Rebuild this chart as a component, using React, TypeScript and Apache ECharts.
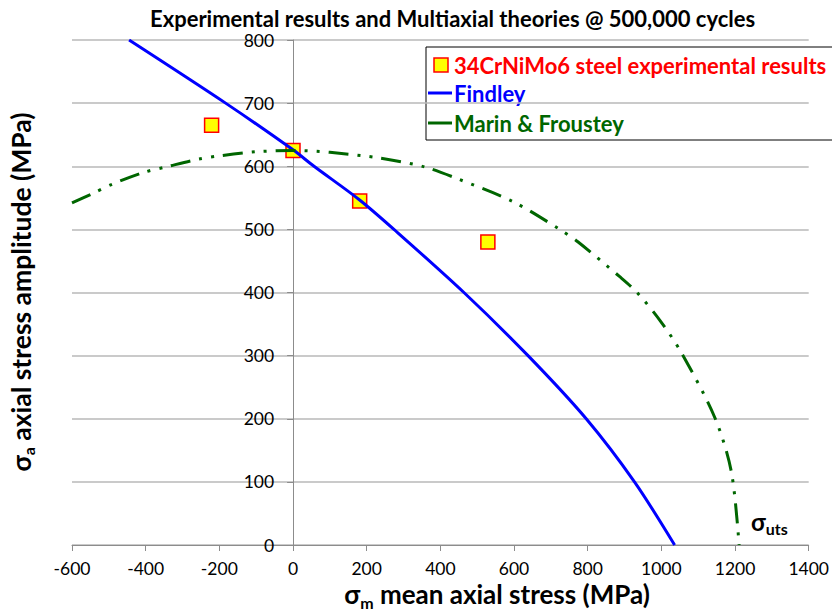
import React, { useEffect, useRef } from "react";
import * as echarts from "echarts";

const TITLE = "Experimental results and Multiaxial theories @ 500,000 cycles";
const SERIES_EXP = "34CrNiMo6 steel experimental results";
const SERIES_FINDLEY = "Findley";
const SERIES_MARIN = "Marin & Froustey";

// Experimental points [mean stress, amplitude]
const expX = [-221, 0, 181, 529];
const expY = [665, 625, 545, 480];

// Findley curve
const findleyX = [-445, -183, 0, 57, 180, 274, 464, 638, 796, 927, 1036];
const findleyY = [800, 700, 626, 600, 547, 500, 400, 300, 200, 100, 0];

// Marin & Froustey curve
const marinX = [-600, -547, -489, -407, -344, -258, -193, -99, 0, 100, 235, 357, 443, 597, 724, 774, 887, 934, 996, 1054, 1145, 1190, 1211];
const marinY = [542, 556, 572, 590, 599, 611, 617, 623, 625, 622, 613, 599, 581, 544, 500, 480, 425, 400, 356, 305, 202, 116, 0];

const X_MIN = -600, X_MAX = 1400, X_STEP = 200;
const Y_MIN = 0, Y_MAX = 800, Y_STEP = 100;

const FONT = 'Lato, "Open Sans", "DejaVu Sans", sans-serif';

const GRID_LEFT = 72, GRID_RIGHT = 23, GRID_TOP = 40, GRID_BOTTOM = 65;
const W = 832, H = 610;
// shift the y axis from the grid's left edge to x = 0
const Y_AXIS_OFFSET = -((0 - X_MIN) / (X_MAX - X_MIN)) * (W - GRID_LEFT - GRID_RIGHT);

const zip = (xs: number[], ys: number[]) => xs.map((x, i) => [x, ys[i]]);

const measure = (text: string, font: string) =>
  new (echarts.graphic as any).Text({ style: { text, font } }).getBoundingRect().width;

// Builds [main, subscript, rest] laid out horizontally, centred on (0,0) locally
function subscriptGroup(
  main: string, sub: string, rest: string,
  mainSize: number, subSize: number, subDrop: number, anchor: "center" | "left"
) {
  const fMain = `bold ${mainSize}px ${FONT}`;
  const fSub = `bold ${subSize}px ${FONT}`;
  const w1 = measure(main, fMain);
  const w2 = measure(sub, fSub);
  const w3 = rest ? measure(rest, fMain) : 0;
  const total = w1 + w2 + w3;
  const x0 = anchor === "center" ? -total / 2 : 0;
  const children: any[] = [
    { type: "text", x: x0, y: 0, style: { text: main, font: fMain, fill: "#000", align: "left", verticalAlign: "middle" } },
    { type: "text", x: x0 + w1, y: subDrop, style: { text: sub, font: fSub, fill: "#000", align: "left", verticalAlign: "middle" } },
  ];
  if (rest) {
    children.push({ type: "text", x: x0 + w1 + w2, y: 0, style: { text: rest, font: fMain, fill: "#000", align: "left", verticalAlign: "middle" } });
  }
  return children;
}

export default function App() {
  const ref = useRef<HTMLDivElement>(null);
  useEffect(() => {
    if (!ref.current) return;
    const chart = echarts.init(ref.current, undefined, { renderer: "svg" });
    const option: any = {
      animation: false,
      backgroundColor: "#ffffff",
      textStyle: { fontFamily: FONT },
      title: {
        text: TITLE,
        left: 150,
        top: 6,
        padding: 0,
        textStyle: { fontFamily: FONT, fontSize: 22, lineHeight: 24, fontWeight: "bold", color: "#000" },
      },
      grid: { left: GRID_LEFT, right: GRID_RIGHT, top: GRID_TOP, bottom: GRID_BOTTOM, containLabel: false },
      xAxis: {
        type: "value",
        min: X_MIN,
        max: X_MAX,
        interval: X_STEP,
        axisLine: { show: true, onZero: false, lineStyle: { color: "#8c8c8c", width: 1 } },
        axisTick: { show: true, length: 6, lineStyle: { color: "#8c8c8c" } },
        axisLabel: { fontFamily: FONT, fontSize: 17.5, color: "#000", margin: 14, formatter: (v: number) => String(v) },
        splitLine: { show: false },
      },
      yAxis: {
        type: "value",
        min: Y_MIN,
        max: Y_MAX,
        interval: Y_STEP,
        offset: Y_AXIS_OFFSET,
        axisLine: { show: true, onZero: false, lineStyle: { color: "#8c8c8c", width: 1 } },
        axisTick: { show: true, length: 6, lineStyle: { color: "#8c8c8c" } },
        axisLabel: { fontFamily: FONT, fontSize: 17.5, color: "#000", margin: 19, formatter: (v: number) => String(v) },
        splitLine: { show: true, lineStyle: { color: "#b9b9b9", width: 1.5 } },
      },
      series: [
        {
          name: SERIES_EXP,
          type: "scatter",
          data: zip(expX, expY),
          symbol: "rect",
          symbolSize: 14,
          itemStyle: { color: "#FFFF00", borderColor: "#FF0000", borderWidth: 1.5, opacity: 1 },
        },
        {
          name: SERIES_FINDLEY,
          type: "line",
          data: zip(findleyX, findleyY),
          smooth: 0.3,
          showSymbol: false,
          symbol: "none",
          lineStyle: { color: "#0000FF", width: 3 },
          itemStyle: { color: "#0000FF" },
        },
        {
          name: SERIES_MARIN,
          type: "line",
          data: zip(marinX, marinY),
          smooth: 0.3,
          showSymbol: false,
          symbol: "none",
          lineStyle: { color: "#006600", width: 3, type: [20, 9, 3, 9, 3, 9] },
          itemStyle: { color: "#006600" },
        },
      ],
      graphic: [
        {
          type: "group",
          z: 100,
          children: [
            { type: "rect", shape: { x: 426, y: 47, width: 420, height: 93 }, style: { fill: "#fff", stroke: "#000", lineWidth: 1 } },
            { type: "rect", shape: { x: 434, y: 58, width: 14, height: 14 }, style: { fill: "#FFFF00", stroke: "#FF0000", lineWidth: 1.5 } },
            { type: "text", x: 454, y: 65, style: { text: SERIES_EXP, fill: "#FF0000", font: `bold 22px ${FONT}`, verticalAlign: "middle", align: "left" } },
            { type: "line", shape: { x1: 428, y1: 93, x2: 452, y2: 93 }, style: { stroke: "#0000FF", lineWidth: 3 } },
            { type: "text", x: 454, y: 93, style: { text: SERIES_FINDLEY, fill: "#0000FF", font: `bold 22px ${FONT}`, verticalAlign: "middle", align: "left" } },
            { type: "line", shape: { x1: 428, y1: 123, x2: 452, y2: 123 }, style: { stroke: "#006600", lineWidth: 3 } },
            { type: "text", x: 454, y: 123, style: { text: SERIES_MARIN, fill: "#006600", font: `bold 22px ${FONT}`, verticalAlign: "middle", align: "left" } },
          ],
        },
        {
          type: "group",
          x: 21,
          y: 292,
          rotation: Math.PI / 2,
          children: subscriptGroup("σ", "a", " axial stress amplitude (MPa)", 26.5, 16, 7, "center"),
        },
        {
          type: "group",
          x: 497,
          y: 594,
          children: subscriptGroup("σ", "m", " mean axial stress (MPa)", 26, 16, 8, "center"),
        },
        {
          type: "group",
          x: 751,
          y: 521,
          children: subscriptGroup("σ", "uts", "", 24, 16, 7, "left"),
        },
      ],
    };
    chart.setOption(option);
    return () => chart.dispose();
  }, []);
  return <div ref={ref} style={{ position: "absolute", left: 0, top: 0, width: W, height: H }} />;
}
